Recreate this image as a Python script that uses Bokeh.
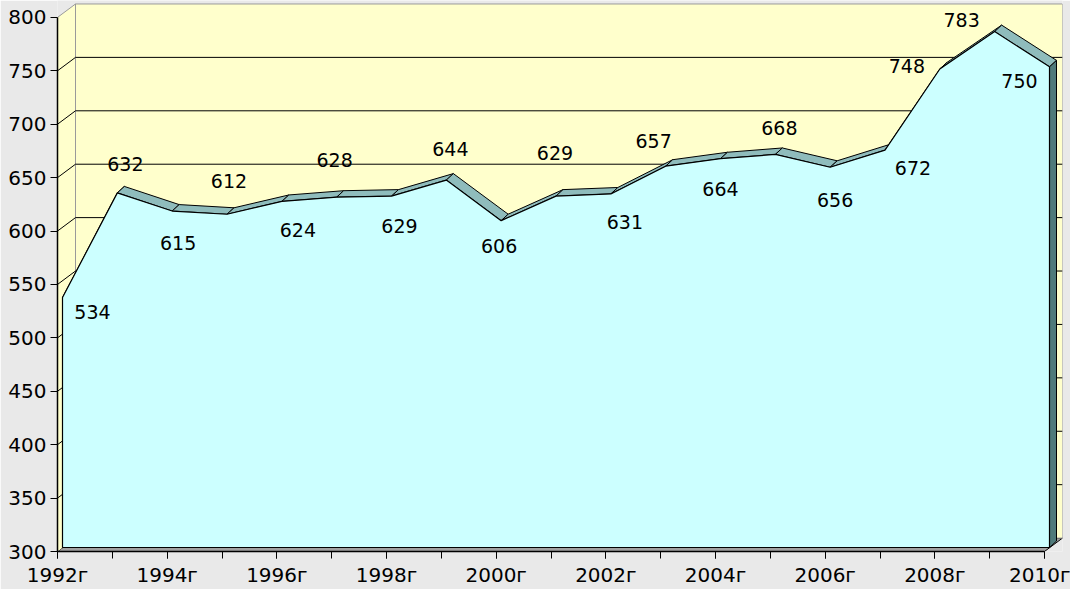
from bokeh.plotting import figure
from bokeh.models import Range1d, FixedTicker
from bokeh.embed import file_html
from bokeh.resources import INLINE
from bokeh.core.properties import value

# ---- data ----
years = list(range(1992, 2011))
values = [534, 632, 615, 612, 624, 628, 629, 644, 606, 629,
          631, 657, 664, 668, 656, 672, 748, 783, 750]
x_tick_years = [1992, 1994, 1996, 1998, 2000, 2002, 2004, 2006, 2008, 2010]
x_tick_labels = ["1992г", "1994г", "1996г", "1998г", "2000г",
                 "2002г", "2004г", "2006г", "2008г", "2010г"]
y_ticks = [300, 350, 400, 450, 500, 550, 600, 650, 700, 750, 800]

# label placement (screen px relative to the point, y down)
label_dx = [30, 8, 6, 2, 16, -2, 8, 4, -2, -1, 14, -12, 0, 4, 5, 28, -33, -33, -30]
label_dy = [15, -29, 32, -33, 29, -37, 30, -31, 25, -43, 28, -25, 30, -27, 33, 18, -3, -12, 14]

# ---- geometry ----
W, H = 1070, 589
ML, MR, MT, MB = 57, 8, 0, 35
FRAME_W = W - ML - MR
FRAME_H = H - MT - MB
PXX = 987.0 / 18.0      # px per year
PXY = 537.0 / 500.0     # px per unit

x0, x1 = years[0], years[-1]
y0, y1 = y_ticks[0], y_ticks[-1]

fx, fy = 5 / PXX, 4 / PXY       # area front face depth offset
bx, by = 12 / PXX, 10.5 / PXY   # area back face depth offset
wx, wy = 18 / PXX, 13.5 / PXY   # back wall depth offset

p = figure(width=W, height=H, output_backend="svg", toolbar_location=None,
           x_range=Range1d(x0, x0 + FRAME_W / PXX),
           y_range=Range1d(y0, y0 + FRAME_H / PXY),
           min_border_left=ML, min_border_right=MR,
           min_border_top=MT, min_border_bottom=MB)
p.background_fill_color = "#e9e9e9"
p.border_fill_color = "#e9e9e9"
p.outline_line_color = None
p.xgrid.visible = False
p.ygrid.visible = False

WALL = "#FFFFCC"
# floor
p.patch([x0, x1, x1 + wx, x0 + wx], [y0, y0, y0 + wy, y0 + wy],
        fill_color="#a0a0a0", line_color="#000000", line_width=1)
# left wall
p.patch([x0, x0, x0 + wx, x0 + wx], [y0, y1, y1 + wy, y0 + wy],
        fill_color=WALL, line_color=None)
# back wall
p.quad(left=x0 + wx, right=x1 + wx, bottom=y0 + wy, top=y1 + wy,
       fill_color=WALL, line_color="#9a9a9a", line_width=1)
p.segment(x0=[x0], y0=[y1], x1=[x0 + wx], y1=[y1 + wy], line_color="#9a9a9a", line_width=1)

# gridlines on walls
gv = y_ticks[1:-1]
p.segment(x0=[x0 + wx] * len(gv), y0=[v + wy for v in gv],
          x1=[x1 + wx] * len(gv), y1=[v + wy for v in gv],
          line_color="#000000", line_width=1)
p.segment(x0=[x0] * len(gv), y0=gv, x1=[x0 + wx] * len(gv), y1=[v + wy for v in gv],
          line_color="#000000", line_width=1)

# area top surface strips
xs, ys = [], []
for i in range(len(years) - 1):
    xa, xb = years[i], years[i + 1]
    va, vb = values[i], values[i + 1]
    xs.append([xa + fx, xb + fx, xb + bx, xa + bx])
    ys.append([va + fy, vb + fy, vb + by, va + by])
p.patches(xs, ys, fill_color="#8fbcbc", line_color="#000000", line_width=1)

# right end cap
p.patch([x1 + fx, x1 + fx, x1 + bx, x1 + bx],
        [y0 + fy, values[-1] + fy, values[-1] + by, y0 + by],
        fill_color="#4f7a7a", line_color="#000000", line_width=1)

# front face
p.patch([x + fx for x in years] + [x1 + fx, x0 + fx],
        [v + fy for v in values] + [y0 + fy, y0 + fy],
        fill_color="#CCFFFF", line_color="#000000", line_width=1.2)

# data labels
p.text(x=[x + fx + dx / PXX for x, dx in zip(years, label_dx)],
       y=[v + fy - dy / PXY for v, dy in zip(values, label_dy)],
       text=[str(v) for v in values],
       text_align="center", text_baseline="middle",
       text_font=value("DejaVu Sans"), text_font_size="19px", text_color="#000000")

# axes
xa = p.xaxis[0]
xa.ticker = FixedTicker(ticks=x_tick_years, minor_ticks=years)
xa.major_label_overrides = {y: t for y, t in zip(x_tick_years, x_tick_labels)}
xa.bounds = (x0, x1)
xa.major_tick_out = 7
xa.major_tick_in = 0
xa.minor_tick_out = 7
xa.minor_tick_in = 0
xa.major_label_standoff = 4
xa.major_label_text_font = "DejaVu Sans"
xa.major_label_text_font_size = "20px"
xa.major_label_text_color = "#000000"
xa.axis_line_color = "#000000"
xa.axis_line_width = 1.5
xa.major_tick_line_color = "#000000"
xa.minor_tick_line_color = "#000000"

ya = p.yaxis[0]
ya.ticker = FixedTicker(ticks=y_ticks)
ya.bounds = (y0, y1)
ya.major_tick_out = 7
ya.major_tick_in = 0
ya.minor_tick_out = 0
ya.minor_tick_in = 0
ya.major_label_standoff = 4
ya.major_label_text_font = "DejaVu Sans"
ya.major_label_text_font_size = "20px"
ya.major_label_text_color = "#000000"
ya.axis_line_color = "#000000"
ya.axis_line_width = 1.5
ya.major_tick_line_color = "#000000"

open("out.html", "w").write(file_html(p, INLINE))
